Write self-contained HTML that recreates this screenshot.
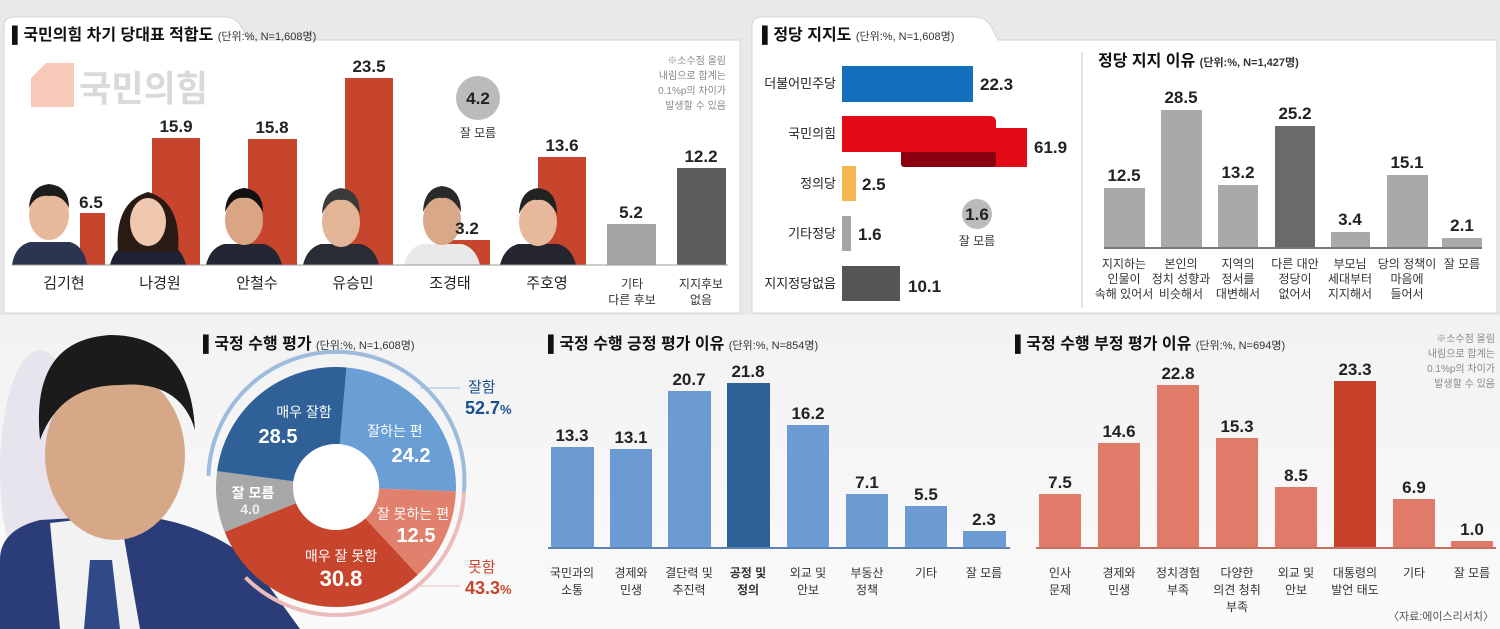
<!DOCTYPE html>
<html><head><meta charset="utf-8"><style>
html,body{margin:0;padding:0;background:#f4f4f4;}
svg{display:block;font-family:"Liberation Sans","Noto Sans CJK KR",sans-serif;}
.v{font-weight:bold;font-size:17px;fill:#222;text-anchor:middle;}
.n{font-size:15px;fill:#222;text-anchor:middle;}
.s{font-size:12px;fill:#333;text-anchor:middle;}
.t{font-weight:bold;font-size:16px;fill:#111;}
.u{font-size:11px;fill:#333;}
</style></head><body>
<svg width="1500" height="629" viewBox="0 0 1500 629" xmlns="http://www.w3.org/2000/svg">
<defs>
<linearGradient id="bg" x1="0" y1="0" x2="0" y2="1"><stop offset="0" stop-color="#f2f2f2"/><stop offset="1" stop-color="#fafafa"/></linearGradient>
</defs>
<rect width="1500" height="629" fill="#e9e9e9"/>
<rect y="315" width="1500" height="314" fill="url(#bg)"/>
<path d="M4 313 V26 Q4 17 14 17 H225 Q236 17 242 28 L248 40 H740 V313 Z" fill="#fff" stroke="#d4d4d4"/>
<path d="M752 313 V26 Q752 17 762 17 H975 Q986 17 992 28 L998 40 H1497 V313 Z" fill="#fff" stroke="#d4d4d4"/>
<text x="12" y="40" class="t">▌국민의힘 차기 당대표 적합도 <tspan class="u" font-weight="normal">(단위:%, N=1,608명)</tspan></text>
<path d="M46 63 H74 V107 H31 V78 Z" fill="#f8c9b8"/>
<text x="79" y="101" font-size="36" font-weight="bold" fill="#d9d9d9" textLength="129" lengthAdjust="spacingAndGlyphs">국민의힘</text>
<text x="726" y="64" font-size="10" fill="#888" text-anchor="end">※소수점 올림</text>
<text x="726" y="79" font-size="10" fill="#888" text-anchor="end">내림으로 합계는</text>
<text x="726" y="94" font-size="10" fill="#888" text-anchor="end">0.1%p의 차이가</text>
<text x="726" y="109" font-size="10" fill="#888" text-anchor="end">발생할 수 있음</text>
<circle cx="478" cy="98" r="22" fill="#bbb"/>
<text x="478" y="104" class="v" font-size="16">4.2</text>
<text x="478" y="137" class="s" font-size="13">잘 모름</text>
<g fill="#c8452d">
<rect x="80" y="213" width="25" height="52"/><rect x="152" y="138" width="48" height="127"/>
<rect x="248" y="139" width="49" height="126"/><rect x="345" y="78" width="48" height="187"/>
<rect x="443" y="240" width="47" height="25"/><rect x="538" y="157" width="48" height="108"/>
</g>
<rect x="607" y="224" width="49" height="41" fill="#a3a3a3"/>
<rect x="677" y="168" width="49" height="97" fill="#5c5c5c"/>
<g>
<g transform="translate(12,178)"><path d="M0 87 Q3 68 18 64 L58 64 Q72 68 75 87Z" fill="#2b3550"/><ellipse cx="37" cy="37" rx="20" ry="25" fill="#e8b89b"/><path d="M17 30 Q18 8 37 6 Q57 8 57 30 Q50 16 37 18 Q24 16 17 30Z" fill="#1d1d1d"/></g>
<g transform="translate(110,182)"><path d="M0 83 Q4 66 18 62 L58 62 Q72 66 76 83Z" fill="#1e2233"/><path d="M8 70 Q4 20 38 10 Q72 20 68 70 Z" fill="#2a1a14"/><ellipse cx="38" cy="40" rx="18" ry="24" fill="#f0c8b0"/></g>
<g transform="translate(206,182)"><path d="M0 83 Q4 66 18 62 L58 62 Q72 66 76 83Z" fill="#222733"/><ellipse cx="38" cy="38" rx="19" ry="25" fill="#d9a585"/><path d="M19 30 Q20 8 38 6 Q57 8 57 30 Q48 14 38 16 Q27 14 19 30Z" fill="#111"/></g>
<g transform="translate(303,182)"><path d="M0 83 Q4 66 18 62 L58 62 Q72 66 76 83Z" fill="#2a2c36"/><ellipse cx="38" cy="40" rx="19" ry="25" fill="#e2b596"/><path d="M19 32 Q20 8 38 6 Q57 8 57 32 Q48 16 38 18 Q27 16 19 32Z" fill="#3a3a3a"/></g>
<g transform="translate(404,182)"><path d="M0 83 Q4 66 18 62 L58 62 Q72 66 76 83Z" fill="#e8e8e8"/><ellipse cx="38" cy="38" rx="19" ry="25" fill="#d8a888"/><path d="M19 30 Q20 6 38 4 Q57 6 57 30 Q48 14 38 16 Q27 14 19 30Z" fill="#2a2a2a"/></g>
<g transform="translate(500,182)"><path d="M0 83 Q4 66 18 62 L58 62 Q72 66 76 83Z" fill="#252530"/><ellipse cx="38" cy="40" rx="19" ry="24" fill="#e8b89c"/><path d="M19 32 Q20 8 38 6 Q57 8 57 32 Q48 16 38 18 Q27 16 19 32Z" fill="#222"/></g>
</g>
<line x1="12" y1="265" x2="728" y2="265" stroke="#999" stroke-width="1"/>
<g class="v"><text x="91" y="208">6.5</text><text x="176" y="132">15.9</text><text x="272" y="133">15.8</text><text x="369" y="72">23.5</text><text x="467" y="234">3.2</text><text x="562" y="151">13.6</text><text x="631" y="218">5.2</text><text x="701" y="162">12.2</text></g>
<g class="n" font-size="16"><text x="64" y="288">김기현</text><text x="160" y="288">나경원</text><text x="257" y="288">안철수</text><text x="353" y="288">유승민</text><text x="450" y="288">조경태</text><text x="547" y="288">주호영</text></g>
<g class="s" font-size="13"><text x="632" y="288">기타</text><text x="632" y="304">다른 후보</text><text x="701" y="288">지지후보</text><text x="701" y="304">없음</text></g>
<text x="762" y="40" class="t">▌정당 지지도 <tspan class="u" font-weight="normal">(단위:%, N=1,608명)</tspan></text>
<g font-size="13" fill="#222" text-anchor="end"><text x="836" y="88">더불어민주당</text><text x="836" y="138">국민의힘</text><text x="836" y="188">정의당</text><text x="836" y="238">기타정당</text><text x="836" y="288">지지정당없음</text></g>
<rect x="842" y="66" width="131" height="36" fill="#1470bd"/>
<rect x="950" y="128" width="77" height="39" fill="#e30b17"/>
<rect x="901" y="150" width="95" height="17" rx="3" fill="#8a0010"/>
<path d="M842 116 H990 Q996 116 996 122 V152 H842Z" fill="#e30b17"/>
<rect x="842" y="166" width="14" height="35" fill="#f2b84f"/>
<rect x="842" y="216" width="9" height="35" fill="#a5a5a5"/>
<rect x="842" y="266" width="58" height="35" fill="#555"/>
<g class="v"><text x="980" y="90" text-anchor="start">22.3</text><text x="1034" y="153" text-anchor="start">61.9</text><text x="862" y="190" text-anchor="start">2.5</text><text x="858" y="240" text-anchor="start">1.6</text><text x="908" y="292" text-anchor="start">10.1</text></g>
<circle cx="977" cy="214" r="15" fill="#bbb"/><text x="977" y="220" class="v" font-size="14">1.6</text>
<text x="977" y="245" class="s">잘 모름</text>
<line x1="1082" y1="52" x2="1082" y2="308" stroke="#e2e2e2" stroke-width="2"/>
<text x="1098" y="66" class="t" font-weight="normal" font-size="15">정당 지지 이유 <tspan class="u">(단위:%, N=1,427명)</tspan></text>
<g fill="#a9a9a9"><rect x="1104" y="188" width="41" height="60"/><rect x="1161" y="110" width="41" height="138"/><rect x="1218" y="185" width="40" height="63"/><rect x="1331" y="232" width="39" height="16"/><rect x="1387" y="175" width="41" height="73"/><rect x="1442" y="238" width="40" height="10"/></g>
<rect x="1275" y="126" width="40" height="122" fill="#6a6a6a"/>
<line x1="1104" y1="248" x2="1482" y2="248" stroke="#777" stroke-width="2"/>
<g class="v"><text x="1124" y="181">12.5</text><text x="1181" y="103">28.5</text><text x="1238" y="178">13.2</text><text x="1295" y="119">25.2</text><text x="1350" y="225">3.4</text><text x="1407" y="168">15.1</text><text x="1462" y="231">2.1</text></g>
<g class="s"><text x="1124" y="268">지지하는</text><text x="1124" y="283">인물이</text><text x="1124" y="298">속해 있어서</text>
<text x="1181" y="268">본인의</text><text x="1181" y="283">정치 성향과</text><text x="1181" y="298">비슷해서</text>
<text x="1238" y="268">지역의</text><text x="1238" y="283">정서를</text><text x="1238" y="298">대변해서</text>
<text x="1295" y="268">다른 대안</text><text x="1295" y="283">정당이</text><text x="1295" y="298">없어서</text>
<text x="1350" y="268">부모님</text><text x="1350" y="283">세대부터</text><text x="1350" y="298">지지해서</text>
<text x="1407" y="268">당의 정책이</text><text x="1407" y="283">마음에</text><text x="1407" y="298">들어서</text>
<text x="1462" y="268">잘 모름</text></g>
<ellipse cx="40" cy="470" rx="40" ry="120" fill="#e8e4ee"/>
<path d="M0 560 Q0 530 40 520 L130 515 Q200 520 250 560 L300 629 H0Z" fill="#2a3d78"/>
<path d="M50 523 L120 515 L140 629 H60Z" fill="#f2f2f2"/>
<path d="M90 560 L112 560 L120 629 H84Z" fill="#304a88"/>
<ellipse cx="115" cy="455" rx="70" ry="85" fill="#d7a887"/>
<path d="M40 440 Q30 340 110 335 Q190 335 195 430 Q180 380 120 385 Q60 385 40 440Z" fill="#1b1b1b"/>
<text x="203" y="349" class="t">▌국정 수행 평가 <tspan class="u" font-weight="normal">(단위:%, N=1,608명)</tspan></text>
<path d="M208.5 475.8 A128 128 0 1 1 463.9 491.5" fill="none" stroke="#9dbbdc" stroke-width="4"/>
<path d="M463.9 491.5 A128 128 0 0 1 245.5 577.5" fill="none" stroke="#ecbcbc" stroke-width="4"/>
<path d="M346.5 367.5 A120 120 0 0 1 455.9 491.4 L379 488.6 A43 43 0 0 0 339.7 444.2Z" fill="#6a9fd6"/>
<path d="M455.9 491.4 A120 120 0 0 1 417.7 574.9 L365.3 518.5 A43 43 0 0 0 379 488.6Z" fill="#e2806e"/>
<path d="M417.7 574.9 A120 120 0 0 1 224.7 532 L296.1 503.1 A43 43 0 0 0 365.3 518.5Z" fill="#c8452d"/>
<path d="M224.7 532 A120 120 0 0 1 217.1 471.1 L293.4 481.3 A43 43 0 0 0 296.1 503.1Z" fill="#a8a8a8"/>
<path d="M217.1 471.1 A120 120 0 0 1 346.5 367.5 L339.7 444.2 A43 43 0 0 0 293.4 481.3Z" fill="#2f6098"/>
<circle cx="336" cy="487" r="43" fill="#fff"/>
<g fill="#fff" text-anchor="middle"><text x="304" y="417" font-size="14">매우 잘함</text><text x="278" y="443" font-size="20" font-weight="bold">28.5</text>
<text x="395" y="436" font-size="14">잘하는 편</text><text x="411" y="462" font-size="20" font-weight="bold">24.2</text>
<text x="413" y="519" font-size="14">잘 못하는 편</text><text x="416" y="542" font-size="20" font-weight="bold">12.5</text>
<text x="341" y="561" font-size="14">매우 잘 못함</text><text x="341" y="586" font-size="22" font-weight="bold">30.8</text>
<text x="253" y="498" font-size="14" font-weight="bold">잘 모름</text><text x="250" y="514" font-size="14" font-weight="bold" fill="#eee">4.0</text></g>
<line x1="420" y1="388" x2="460" y2="388" stroke="#9dbbdc"/>
<line x1="415" y1="586" x2="460" y2="586" stroke="#ecbcbc"/>
<text x="468" y="392" font-size="15" fill="#1a4f8f">잘함</text><text x="465" y="414" font-size="18" font-weight="bold" fill="#1a4f8f">52.7<tspan font-size="13">%</tspan></text>
<text x="468" y="572" font-size="15" fill="#c8452d">못함</text><text x="465" y="594" font-size="18" font-weight="bold" fill="#c8452d">43.3<tspan font-size="13">%</tspan></text>
<text x="548" y="349" class="t">▌국정 수행 긍정 평가 이유 <tspan class="u" font-weight="normal">(단위:%, N=854명)</tspan></text>
<g fill="#6b9bd2"><rect x="551" y="447" width="43" height="101"/><rect x="610" y="449" width="42" height="99"/><rect x="668" y="391" width="43" height="157"/><rect x="787" y="425" width="42" height="123"/><rect x="846" y="494" width="42" height="54"/><rect x="905" y="506" width="42" height="42"/><rect x="963" y="531" width="43" height="17"/></g>
<rect x="727" y="383" width="43" height="165" fill="#2f6098"/>
<line x1="548" y1="548" x2="1010" y2="548" stroke="#5a82b4" stroke-width="2"/>
<g class="v"><text x="572" y="441">13.3</text><text x="631" y="443">13.1</text><text x="689" y="385">20.7</text><text x="748" y="377">21.8</text><text x="808" y="419">16.2</text><text x="867" y="488">7.1</text><text x="926" y="500">5.5</text><text x="984" y="525">2.3</text></g>
<g class="s" font-size="13"><text x="572" y="577">국민과의</text><text x="572" y="594">소통</text><text x="631" y="577">경제와</text><text x="631" y="594">민생</text><text x="689" y="577">결단력 및</text><text x="689" y="594">추진력</text><text x="748" y="577" font-weight="bold">공정 및</text><text x="748" y="594" font-weight="bold">정의</text><text x="808" y="577">외교 및</text><text x="808" y="594">안보</text><text x="867" y="577">부동산</text><text x="867" y="594">정책</text><text x="926" y="577">기타</text><text x="984" y="577">잘 모름</text></g>
<text x="1015" y="349" class="t">▌국정 수행 부정 평가 이유 <tspan class="u" font-weight="normal">(단위:%, N=694명)</tspan></text>
<text x="1495" y="342" font-size="10" fill="#888" text-anchor="end">※소수점 올림</text>
<text x="1495" y="357" font-size="10" fill="#888" text-anchor="end">내림으로 합계는</text>
<text x="1495" y="372" font-size="10" fill="#888" text-anchor="end">0.1%p의 차이가</text>
<text x="1495" y="387" font-size="10" fill="#888" text-anchor="end">발생할 수 있음</text>
<g fill="#e07b69"><rect x="1039" y="494" width="42" height="54"/><rect x="1098" y="443" width="42" height="105"/><rect x="1157" y="385" width="42" height="163"/><rect x="1216" y="438" width="42" height="110"/><rect x="1275" y="487" width="42" height="61"/><rect x="1393" y="499" width="42" height="49"/><rect x="1451" y="541" width="42" height="7"/></g>
<rect x="1334" y="381" width="42" height="167" fill="#c8412b"/>
<line x1="1036" y1="548" x2="1496" y2="548" stroke="#c87060" stroke-width="2"/>
<g class="v"><text x="1060" y="488">7.5</text><text x="1119" y="437">14.6</text><text x="1178" y="379">22.8</text><text x="1237" y="432">15.3</text><text x="1296" y="481">8.5</text><text x="1355" y="375">23.3</text><text x="1414" y="493">6.9</text><text x="1472" y="535">1.0</text></g>
<g class="s" font-size="13"><text x="1060" y="577">인사</text><text x="1060" y="594">문제</text><text x="1119" y="577">경제와</text><text x="1119" y="594">민생</text><text x="1178" y="577">정치경험</text><text x="1178" y="594">부족</text><text x="1237" y="577">다양한</text><text x="1237" y="594">의견 청취</text><text x="1237" y="611">부족</text><text x="1296" y="577">외교 및</text><text x="1296" y="594">안보</text><text x="1355" y="577">대통령의</text><text x="1355" y="594">발언 태도</text><text x="1414" y="577">기타</text><text x="1472" y="577">잘 모름</text></g>
<text x="1494" y="620" font-size="11" fill="#555" text-anchor="end">〈자료:에이스리서치〉</text>
</svg>
</body></html>
